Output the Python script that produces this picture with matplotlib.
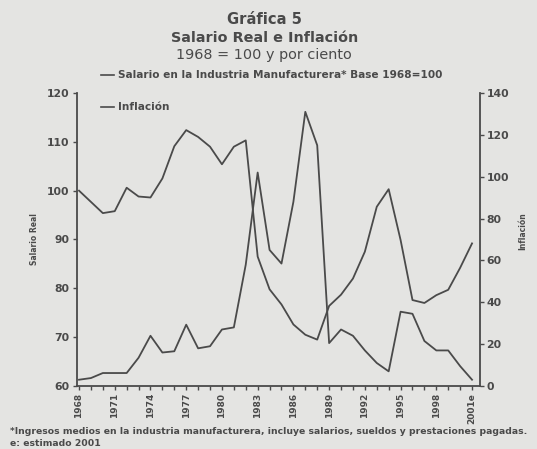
import matplotlib
matplotlib.use("Agg")
import matplotlib.pyplot as plt

# data
years = list(range(1968, 2002))
salario = [100.0, 97.7, 95.4, 95.8, 100.6, 98.8, 98.6, 102.5, 109.1, 112.4,
           111.0, 109.0, 105.4, 109.0, 110.3, 86.5, 79.8, 76.7, 72.6, 70.5,
           69.5, 76.4, 78.7, 82.0, 87.5, 96.7, 100.3, 89.9, 77.6, 77.0,
           78.6, 79.7, 84.2, 89.2]
inflacion = [3.0, 3.8, 6.2, 6.2, 6.2, 13.5, 24.0, 16.0, 16.6, 29.3,
             18.0, 19.0, 27.0, 28.0, 58.0, 102.0, 65.0, 58.5, 88.0, 131.0,
             115.0, 20.5, 27.0, 24.0, 17.0, 11.0, 7.0, 35.5, 34.5, 21.5,
             17.0, 17.0, 9.5, 3.0]
tick_years = list(range(1968, 2002, 3))
tick_labels = [str(y) for y in tick_years[:-1]] + ["2001e"]

bg = "#e4e4e2"
ink = "#4a4a4a"

fig = plt.figure(figsize=(5.37, 4.49), dpi=100, facecolor=bg)
ax = fig.add_axes([0.1425, 0.1403, 0.7505, 0.6526])
ax.set_facecolor(bg)
ax2 = ax.twinx()

ax.plot(years, salario, color=ink, lw=1.3)
ax2.plot(years, inflacion, color=ink, lw=1.3)

ax.set_xlim(1967.79, 2001.63)
ax.set_ylim(60, 120)
ax2.set_ylim(0, 140)
ax.set_yticks(range(60, 121, 10))
ax2.set_yticks(range(0, 141, 20))
ax.set_xticks(tick_years)
ax.set_xticks(years, minor=True)
ax.set_xticklabels(tick_labels, rotation=90)

for a in (ax, ax2):
    a.spines["top"].set_visible(False)
    for s in a.spines.values():
        s.set_color(ink)
        s.set_linewidth(1.3)
ax.spines["right"].set_visible(False)
ax2.spines["left"].set_visible(False)
ax2.spines["bottom"].set_visible(False)

ax.tick_params(axis="x", which="major", length=3, width=1, colors=ink, labelsize=6.5, pad=2)
ax.tick_params(axis="y", length=3, width=1, colors=ink, labelsize=7.8, pad=2)
ax.tick_params(axis="x", which="minor", length=3, width=1, colors=ink)
ax2.tick_params(axis="y", length=3, width=1, colors=ink, labelsize=7.8, pad=2)
for lab in ax.get_xticklabels() + ax.get_yticklabels() + ax2.get_yticklabels():
    lab.set_fontweight("bold")

ax.set_ylabel("Salario Real", fontsize=5.5, fontweight="bold", color=ink, labelpad=6)
ax2.set_ylabel("Inflación", fontsize=5.5, fontweight="bold", color=ink, labelpad=5)
ax2.yaxis.set_label_coords(1.095, 0.53)

# titles
fig.text(0.492, 0.956, "Gráfica 5", ha="center", va="center", fontsize=10.6, fontweight="bold", color=ink)
fig.text(0.492, 0.915, "Salario Real e Inflación", ha="center", va="center", fontsize=10.4, fontweight="bold", color=ink)
fig.text(0.492, 0.877, "1968 = 100 y por ciento", ha="center", va="center", fontsize=10.4, color=ink)

# legend entries
fig.lines.append(plt.Line2D([0.188, 0.212], [0.834, 0.834], transform=fig.transFigure, color=ink, lw=1.2))
fig.text(0.220, 0.834, "Salario en la Industria Manufacturera* Base 1968=100", ha="left", va="center",
         fontsize=7.6, fontweight="bold", color=ink)
fig.lines.append(plt.Line2D([0.188, 0.212], [0.762, 0.762], transform=fig.transFigure, color=ink, lw=1.2))
fig.text(0.220, 0.762, "Inflación", ha="left", va="center", fontsize=7.6, fontweight="bold", color=ink)

# footnote
fig.text(0.018, 0.038, "*Ingresos medios en la industria manufacturera, incluye salarios, sueldos y prestaciones pagadas.",
         ha="left", va="center", fontsize=6.7, fontweight="bold", color=ink)
fig.text(0.018, 0.012, "e: estimado 2001", ha="left", va="center", fontsize=6.7, fontweight="bold", color=ink)

fig.savefig("out.png", dpi=100, facecolor=bg)
